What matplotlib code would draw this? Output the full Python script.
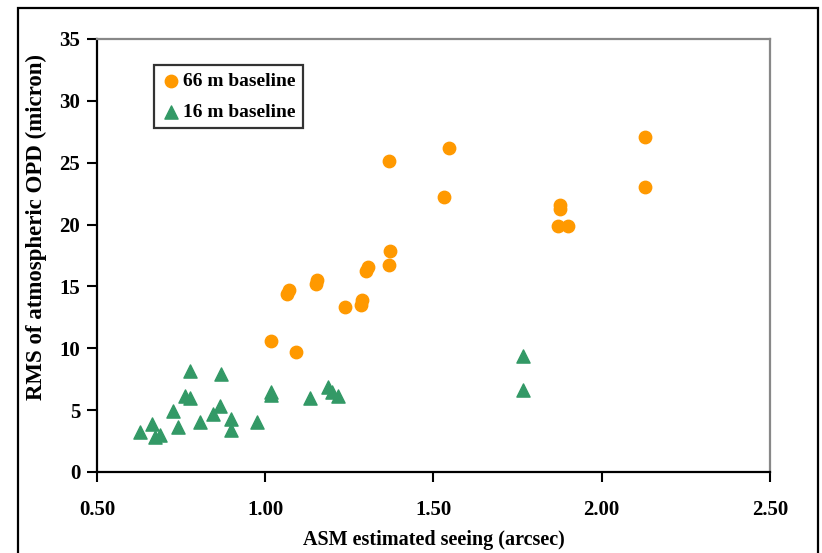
import matplotlib
matplotlib.use("Agg")
import matplotlib.pyplot as plt
from matplotlib.patches import Rectangle

plt.rcParams['font.family'] = ['Liberation Serif', 'DejaVu Serif']
plt.rcParams['font.weight'] = 'bold'

# 66 m baseline (orange)
seeing_66 = [1.016, 1.091, 1.066, 1.070, 1.150, 1.153, 1.238, 1.284, 1.288,
             1.300, 1.304, 1.367, 1.371, 1.367, 1.532, 1.547, 1.876, 1.876,
             1.870, 1.900, 2.129, 2.129]
opd_66 = [10.6, 9.7, 14.4, 14.7, 15.2, 15.5, 13.35, 13.5, 13.9,
          16.25, 16.55, 16.75, 17.85, 25.1, 22.2, 26.17, 21.25, 21.55,
          19.85, 19.85, 27.05, 23.0]

# 16 m baseline (green)
seeing_16 = [0.777, 0.868, 0.762, 0.776, 0.726, 0.663, 0.627, 0.740, 0.672,
             0.687, 0.807, 0.846, 0.866, 0.898, 0.898, 0.975, 1.018, 1.018,
             1.133, 1.186, 1.199, 1.215, 1.767, 1.767]
opd_16 = [8.13, 7.94, 6.18, 5.97, 4.92, 3.86, 3.21, 3.65, 2.81,
          3.0, 4.05, 4.70, 5.35, 4.27, 3.40, 4.05, 6.5, 6.2,
          5.97, 6.86, 6.43, 6.18, 9.40, 6.64]

x_ticks = [0.5, 1.0, 1.5, 2.0, 2.5]
y_ticks = [0, 5, 10, 15, 20, 25, 30, 35]

fig = plt.figure(figsize=(8.22, 5.53), dpi=100)
ax = fig.add_axes([0.118, 0.1465, 0.8187, 0.783])

ax.scatter(seeing_66, opd_66, s=80, marker='o', color='#FF9900',
           edgecolors='#FF9900', label='66 m baseline', zorder=3)
ax.scatter(seeing_16, opd_16, s=90, marker='^', color='#339966',
           edgecolors='#339966', label='16 m baseline', zorder=3)

ax.set_xlim(0.5, 2.5)
ax.set_ylim(0, 35)
ax.set_xticks(x_ticks)
ax.set_xticklabels([f'{v:.2f}' for v in x_ticks])
ax.set_yticks(y_ticks)
ax.tick_params(axis='both', direction='out', length=7, width=1.5,
               labelsize=15, color='black')
ax.tick_params(axis='x', pad=13)
ax.tick_params(axis='y', pad=5)

for side in ['left', 'bottom']:
    ax.spines[side].set_color('black')
    ax.spines[side].set_linewidth(1.6)
for side in ['top', 'right']:
    ax.spines[side].set_color('#888888')
    ax.spines[side].set_linewidth(1.6)

ax.set_xlabel('ASM estimated seeing (arcsec)', fontsize=14.5, fontweight='bold')
ax.xaxis.set_label_coords(0.5, -0.135)
ax.set_ylabel('RMS of atmospheric OPD (micron)', fontsize=16.5, fontweight='bold')
ax.yaxis.set_label_coords(-0.075, 0.565)

leg = ax.legend(loc='upper left', bbox_to_anchor=(0.0847, 0.94), fontsize=14,
                frameon=True, fancybox=False, handletextpad=0.1,
                borderpad=0.4, labelspacing=0.65, handlelength=1.0,
                borderaxespad=0)
leg.get_frame().set_edgecolor('black')
leg.get_frame().set_linewidth(1.6)
for t in leg.get_texts():
    t.set_fontweight('bold')

# outer chart border
fig.patches.append(Rectangle((18 / 822, -0.05), 800 / 822, 1.05 - 8 / 553,
                             transform=fig.transFigure, fill=False,
                             edgecolor='black', linewidth=1.6))

fig.savefig('out.png', dpi=100)
